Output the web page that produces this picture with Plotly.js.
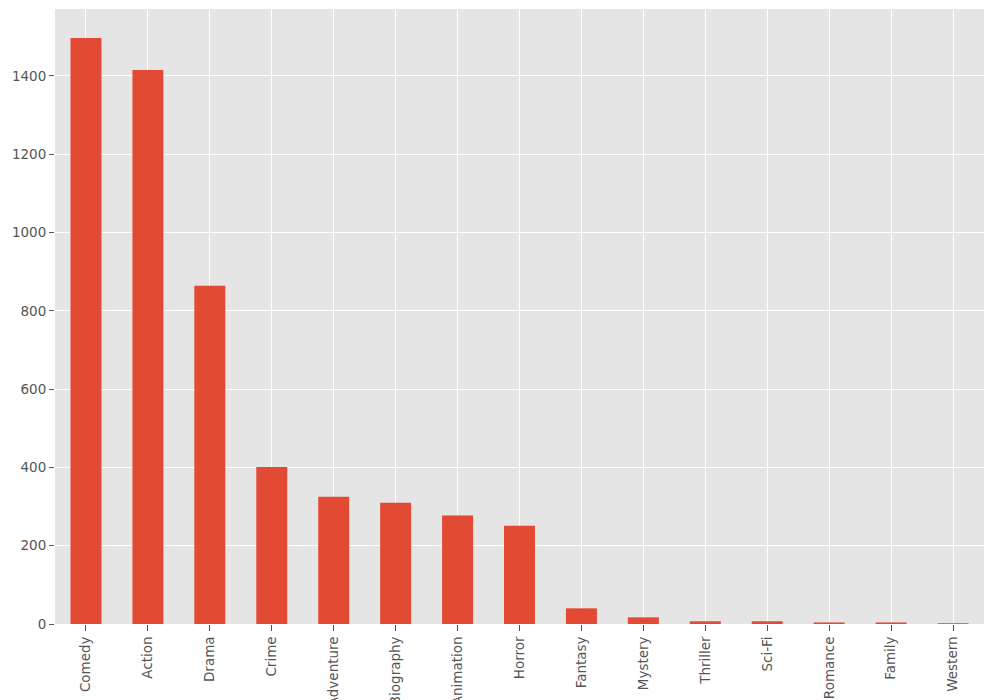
<!DOCTYPE html>
<html>
<head>
<meta charset="utf-8">
<script src="https://cdn.plot.ly/plotly-3.0.1.min.js"></script>
<style>html,body{margin:0;padding:0;background:#fff;}#chart{width:992px;height:700px;}</style>
</head>
<body>
<div id="chart"></div>
<script>
const genres = ["Comedy","Action","Drama","Crime","Adventure","Biography","Animation","Horror","Fantasy","Mystery","Thriller","Sci-Fi","Romance","Family","Western"];
const counts = [1497,1415,864,401,325,310,277,251,40,17,7,7,4,4,2];
const yTicks = [0,200,400,600,800,1000,1200,1400];

Plotly.newPlot('chart', [{
  type: 'bar',
  x: genres,
  y: counts,
  width: 0.5,
  marker: {color: '#E24A33'},
  hoverinfo: 'x+y'
}], {
  width: 992, height: 700,
  margin: {l: 55, r: 8, t: 9, b: 76, pad: 0},
  paper_bgcolor: '#ffffff',
  plot_bgcolor: '#E5E5E5',
  font: {family: 'DejaVu Sans', size: 13.5, color: '#555555'},
  showlegend: false,
  bargap: 0.5,
  xaxis: {
    type: 'category',
    range: [-0.5, 14.5],
    tickangle: -90,
    ticks: 'outside', ticklen: 6, tickwidth: 1, tickcolor: '#555555',
    showgrid: true, gridcolor: '#ffffff', gridwidth: 1,
    zeroline: false, showline: false,
    automargin: false,
    tickfont: {family: 'DejaVu Sans', size: 13.5, color: '#555555'}
  },
  yaxis: {
    range: [0, 1571],
    tickmode: 'array', tickvals: yTicks, ticktext: yTicks.map(String),
    ticks: 'outside', ticklen: 5, tickwidth: 1, tickcolor: '#555555',
    showgrid: true, gridcolor: '#ffffff', gridwidth: 1,
    zeroline: false, showline: false,
    automargin: false,
    tickfont: {family: 'DejaVu Sans', size: 13.5, color: '#555555'}
  }
}, {displayModeBar: false, staticPlot: true});
</script>
</body>
</html>
